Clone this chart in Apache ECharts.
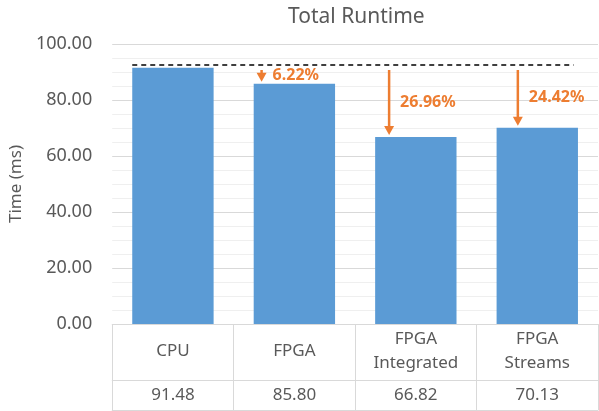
<!DOCTYPE html>
<html lang="en">
<head>
    <meta charset="UTF-8">
    <title>Total Runtime</title>
    <script src="https://cdn.jsdelivr.net/npm/echarts@6/dist/echarts.min.js"></script>
    <style>
        html, body { margin: 0; padding: 0; background: #fff; }
    </style>
</head>
<body>
    <div id="runtime-chart" style="width: 599px; height: 411px;"></div>
    <script>
        // data
        const categories = ['CPU', 'FPGA', 'FPGA\nIntegrated', 'FPGA\nStreams'];
        const runtimes = [91.48, 85.80, 66.82, 70.13];
        const reductionLabels = ['', '6.22%', '26.96%', '24.42%'];
        const refLevel = 92.5;   // dashed reference line (just above CPU bar)
        const yTicks = [0, 20, 40, 60, 80, 100];

        // layout helpers (arrow horizontal position, fraction of category width from center)
        const arrowShift = [0, -0.27, -0.22, -0.16];

        const gray = '#595959';
        const tableLine = '#d9d9d9';
        const orange = '#ED7D31';
        const font = 'Noto Sans';

        const chart = echarts.init(document.getElementById('runtime-chart'));

        const arrowData = [];
        for (let i = 1; i < runtimes.length; i++) {
            arrowData.push([i, runtimes[i]]);
        }

        const option = {
            animation: false,
            title: {
                text: 'Total Runtime',
                left: 283,
                top: 2,
                textStyle: { color: gray, fontFamily: font, fontSize: 21, fontWeight: 'normal' }
            },
            grid: { left: 107, right: 1, top: 44, bottom: 87 },
            xAxis: [
                {
                    type: 'category',
                    data: categories,
                    axisLine: { show: true, lineStyle: { color: tableLine, width: 1 } },
                    axisTick: { show: true, interval: 0, length: 86, lineStyle: { color: tableLine } },
                    axisLabel: {
                        interval: 0, margin: 27, verticalAlign: 'middle',
                        color: gray, fontFamily: font, fontSize: 17, lineHeight: 24
                    }
                },
                {
                    type: 'category',
                    data: categories,
                    position: 'bottom',
                    offset: 56,
                    axisLine: { show: true, lineStyle: { color: tableLine, width: 1 } },
                    axisTick: { show: false },
                    axisLabel: {
                        interval: 0, margin: 15, verticalAlign: 'middle',
                        color: gray, fontFamily: font, fontSize: 17,
                        formatter: (v, idx) => runtimes[idx].toFixed(2)
                    }
                },
                {
                    type: 'category',
                    data: categories,
                    position: 'bottom',
                    offset: 86,
                    axisLine: { show: true, lineStyle: { color: tableLine, width: 1 } },
                    axisTick: { show: false },
                    axisLabel: { show: false }
                }
            ],
            yAxis: {
                type: 'value',
                min: yTicks[0],
                max: yTicks[yTicks.length - 1],
                interval: 20,
                name: 'Time (ms)',
                nameLocation: 'middle',
                nameGap: 82,
                nameTextStyle: { color: gray, fontFamily: font, fontSize: 17 },
                axisLine: { show: false },
                axisTick: { show: false },
                axisLabel: {
                    margin: 20, color: gray, fontFamily: font, fontSize: 18,
                    formatter: v => v.toFixed(2)
                },
                splitLine: { lineStyle: { color: tableLine } },
                minorTick: { show: false, splitNumber: 4 },
                minorSplitLine: { show: true, lineStyle: { color: '#efefef' } }
            },
            series: [
                {
                    type: 'bar',
                    data: runtimes,
                    barCategoryGap: '33%',
                    itemStyle: { color: '#5B9BD5' }
                },
                {
                    // dashed reference line at CPU level
                    type: 'custom',
                    data: [[0, refLevel]],
                    silent: true,
                    z: 5,
                    renderItem: function (params, api) {
                        const band = api.size([1, 0])[0];
                        const p0 = api.coord([0, refLevel]);
                        const p1 = api.coord([categories.length - 1, refLevel]);
                        return {
                            type: 'line',
                            shape: { x1: p0[0] - band * 0.335, y1: p0[1], x2: p1[0] + band * 0.3, y2: p1[1] },
                            style: { stroke: '#000', lineWidth: 1.5, lineDash: [5, 4] }
                        };
                    }
                },
                {
                    // reduction arrows and labels
                    type: 'custom',
                    data: arrowData,
                    silent: true,
                    z: 6,
                    renderItem: function (params, api) {
                        const idx = api.value(0);
                        const band = api.size([1, 0])[0];
                        const top = api.coord([idx, refLevel]);
                        const end = api.coord([idx, api.value(1)]);
                        const ax = top[0] + arrowShift[idx] * band;
                        const y0 = top[1] + 5;
                        const y1 = end[1] - 2;
                        return {
                            type: 'group',
                            children: [
                                {
                                    type: 'line',
                                    shape: { x1: ax, y1: y0, x2: ax, y2: y1 - 7 },
                                    style: { stroke: orange, lineWidth: 2.5 }
                                },
                                {
                                    type: 'polygon',
                                    shape: { points: [[ax - 5, y1 - 9], [ax + 5, y1 - 9], [ax, y1]] },
                                    style: { fill: orange }
                                },
                                {
                                    type: 'text',
                                    x: ax + 11,
                                    y: (y0 + y1) / 2,
                                    style: {
                                        text: reductionLabels[idx],
                                        fill: orange,
                                        font: 'bold 16px "Noto Sans"',
                                        verticalAlign: 'middle',
                                        align: 'left'
                                    }
                                }
                            ]
                        };
                    }
                }
            ]
        };

        chart.setOption(option);
    </script>
</body>
</html>
